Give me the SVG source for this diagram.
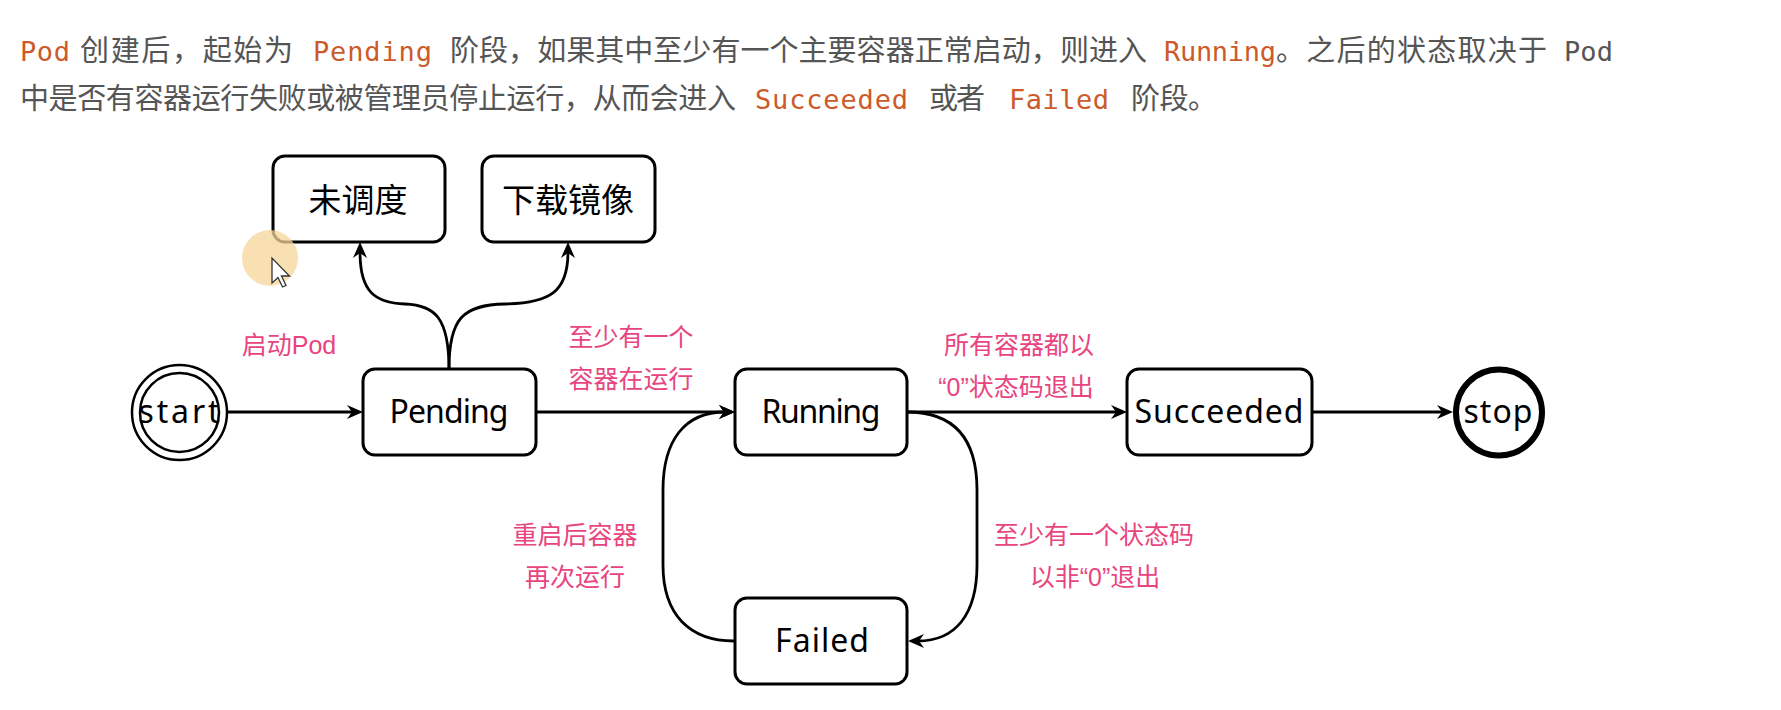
<svg xmlns="http://www.w3.org/2000/svg" width="1781" height="710" viewBox="0 0 1781 710">
<style>
.hd{font-family:"Noto Sans CJK SC","Noto Sans",sans-serif;font-size:29px;fill:#555}
.cd{font-family:"DejaVu Sans Mono","Liberation Mono",monospace;font-size:27px;fill:#CC5A2A}
.cg{font-family:"DejaVu Sans Mono","Liberation Mono",monospace;font-size:27px;fill:#555}
.box{fill:#fff;stroke:#000;stroke-width:3}
.nt{font-family:"Noto Sans","Liberation Sans",sans-serif;font-size:32px;fill:#000;text-anchor:middle}
.ct{font-family:"Noto Sans CJK SC",sans-serif;font-size:33px;fill:#000;text-anchor:middle}
.lb{font-family:"Liberation Sans","Noto Sans CJK SC",sans-serif;font-size:25px;fill:#E8457F;text-anchor:middle}
.edge{fill:none;stroke:#000;stroke-width:2.8}
</style>
<defs>
<marker id="arr" markerUnits="userSpaceOnUse" markerWidth="17" markerHeight="16" refX="6" refY="8" orient="auto">
<path d="M0,1 L16,8 L0,15 L5,8 Z" fill="#000"/>
</marker>
</defs>
<rect width="1781" height="710" fill="#fff"/>
<g id="header">
<text y="61"><tspan class="cd" x="20" textLength="50">Pod</tspan><tspan class="hd" x="80" textLength="213">创建后，起始为</tspan><tspan class="cd" x="313" textLength="119">Pending</tspan><tspan class="hd" x="450" textLength="697">阶段，如果其中至少有一个主要容器正常启动，则进入</tspan><tspan class="cd" x="1164" textLength="112">Running</tspan><tspan class="hd" x="1276" textLength="271">。之后的状态取决于</tspan><tspan class="cg" x="1564" textLength="49">Pod</tspan></text>
<text y="109"><tspan class="hd" x="20" textLength="716">中是否有容器运行失败或被管理员停止运行，从而会进入</tspan><tspan class="cd" x="755" textLength="153">Succeeded</tspan><tspan class="hd" x="929" textLength="56">或者</tspan><tspan class="cd" x="1009" textLength="100">Failed</tspan><tspan class="hd" x="1131" textLength="86">阶段。</tspan></text>
</g>
<g id="connectors">
<path class="edge" marker-end="url(#arr)" d="M228,412 L353,412"/>
<path class="edge" marker-end="url(#arr)" d="M536,412 L725,412"/>
<path class="edge" marker-end="url(#arr)" d="M907,412 L1117,412"/>
<path class="edge" marker-end="url(#arr)" d="M1312,412 L1443,412"/>
<path class="edge" marker-end="url(#arr)" d="M449,369 C449,318 435,305 405,304 C375,303 360,292 360,252"/>
<path class="edge" marker-end="url(#arr)" d="M449,369 C449,318 463,305 505,304 C550,303 568,292 568,252"/>
<path class="edge" marker-end="url(#arr)" d="M907,412 C955,412 977,440 977,490 L977,565 C977,615 955,641 918,641"/>
<path class="edge" marker-end="url(#arr)" d="M734,641 C690,641 663,615 663,565 L663,490 C663,440 685,412 725,412"/>
</g>
<g id="labels">
<text class="lb" x="289" y="354">启动Pod</text>
<text class="lb" x="631" y="346">至少有一个</text>
<text class="lb" x="631" y="388">容器在运行</text>
<text class="lb" x="1019" y="354">所有容器都以</text>
<text class="lb" x="1016" y="396">“0”状态码退出</text>
<text class="lb" x="575" y="544">重启后容器</text>
<text class="lb" x="575" y="586">再次运行</text>
<text class="lb" x="1094" y="544">至少有一个状态码</text>
<text class="lb" x="1095" y="586">以非“0”退出</text>
</g>
<g id="start">
<circle cx="179.5" cy="412.5" r="47.5" fill="#fff" stroke="#000" stroke-width="2.5"/>
<circle cx="179.5" cy="412.5" r="39.5" fill="none" stroke="#000" stroke-width="2.5"/>
<text class="nt" x="179" y="423" textLength="81">start</text>
</g>
<g id="pending">
<rect class="box" x="363" y="369" width="173" height="86" rx="12"/>
<text class="nt" x="449" y="423" textLength="119">Pending</text>
</g>
<g id="unscheduled">
<rect class="box" x="273" y="156" width="172" height="86" rx="12"/>
<text class="ct" x="358" y="212">未调度</text>
</g>
<g id="pulling">
<rect class="box" x="482" y="156" width="173" height="86" rx="12"/>
<text class="ct" x="568" y="212">下载镜像</text>
</g>
<g id="running">
<rect class="box" x="735" y="369" width="172" height="86" rx="12"/>
<text class="nt" x="821" y="423" textLength="119">Running</text>
</g>
<g id="succeeded">
<rect class="box" x="1127" y="369" width="185" height="86" rx="12"/>
<text class="nt" x="1219" y="423" textLength="169">Succeeded</text>
</g>
<g id="failed">
<rect class="box" x="735" y="598" width="172" height="86" rx="12"/>
<text class="nt" x="822" y="652" textLength="94">Failed</text>
</g>
<g id="stop">
<circle cx="1499" cy="412.5" r="43" fill="#fff" stroke="#000" stroke-width="6"/>
<text class="nt" x="1498" y="423" textLength="69">stop</text>
</g>
<g id="cursor">
<circle cx="270" cy="258" r="28" fill="#F6D59A" opacity="0.75"/>
<path d="M272,258 L272,283 L278,277.5 L282.5,287 L286,285.5 L281.5,276 L289.5,276 Z" fill="#fff" stroke="#333" stroke-width="1.3"/>
</g>
</svg>
